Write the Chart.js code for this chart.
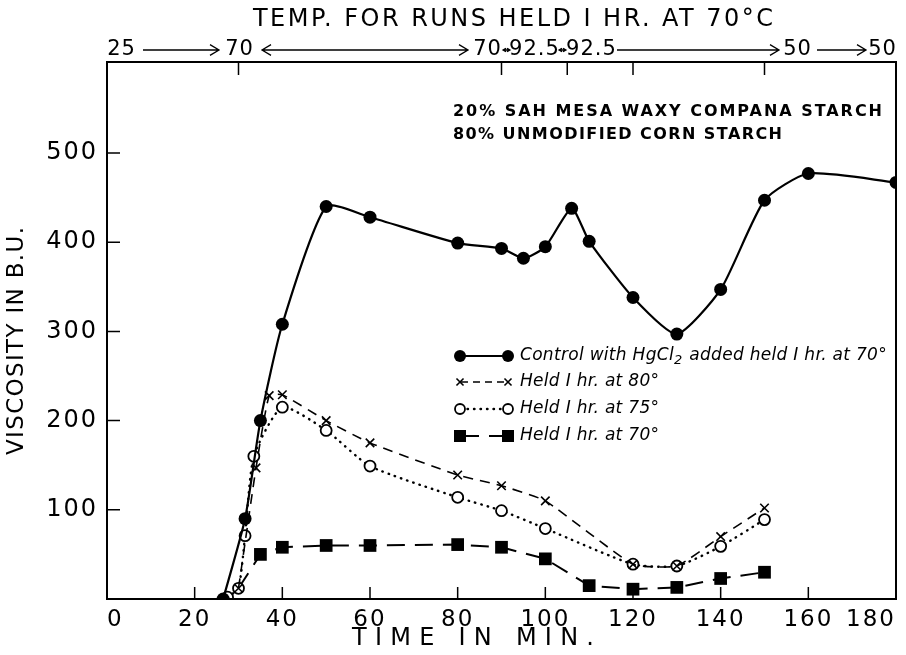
<!DOCTYPE html>
<html>
<head>
<meta charset="utf-8">
<script src="https://cdn.jsdelivr.net/npm/chart.js@4.4.1/dist/chart.umd.min.js"></script>
<style>
  html, body { margin: 0; padding: 0; background: #fff; }
</style>
</head>
<body>
<canvas id="viscChart" width="906" height="655"></canvas>
<script>
// time (min) and viscosity (B.U.)
const controlTime = [26.5, 31.5, 35, 40, 50, 60, 80, 90, 95, 100, 106, 110, 120, 130, 140, 150, 160, 180];
const controlVisc = [0, 90, 200, 308, 440, 428, 399, 393, 382, 395, 438, 401, 338, 297, 347, 447, 477, 467];

const held80Time = [30, 34, 37, 40, 50, 60, 80, 90, 100, 120, 130, 140, 150];
const held80Visc = [12, 147, 228, 229, 200, 175, 139, 127, 110, 39, 37, 70, 102];

const held75Time = [27.5, 30, 31.5, 33.5, 40, 50, 60, 80, 90, 100, 120, 130, 140, 150];
const held75Visc = [2, 12, 71, 160, 215, 189, 149, 114, 99, 79, 39, 37, 59, 89];

const held70Time = [30, 35, 40, 50, 60, 80, 90, 100, 110, 120, 130, 140, 150];
const held70Visc = [12, 50, 58, 60, 60, 61, 58, 45, 15, 11, 13, 23, 30];

const xTickValues = [0, 20, 40, 60, 80, 100, 120, 140, 160, 180];
const yTickValues = [100, 200, 300, 400, 500];
const topTickTimes = [30, 90, 105, 120, 150];  // temperature change marks on top border

const seriesLabels = [
    'Control with HgCl2 added held I hr. at 70°',
    'Held I hr. at 80°',
    'Held I hr. at 75°',
    'Held I hr. at 70°'
];
const mainTitle = 'TEMP. FOR RUNS HELD I HR. AT 70°C';
const tempLabels = ['25', '70', '70', '92.5', '92.5', '50', '50'];
const noteLines = ['20% SAH MESA WAXY COMPANA STARCH', '80% UNMODIFIED CORN STARCH'];
const xTitle = 'TIME IN MIN.';
const yTitle = 'VISCOSITY IN B.U.';

const FONT = "'DejaVu Sans', sans-serif";

function toPoints(xs, ys) {
    return xs.map((x, i) => ({ x: x, y: ys[i] }));
}

// draw text left-aligned, spread with letter spacing to the given width
function fitText(ctx, text, x0, x1, y) {
    ctx.letterSpacing = '0px';
    const w = ctx.measureText(text).width;
    const n = Math.max(text.length - 1, 1);
    const s = (x1 - x0 - w) / n;
    ctx.letterSpacing = s + 'px';
    ctx.textAlign = 'left';
    ctx.fillText(text, x0, y);
    ctx.letterSpacing = '0px';
}

// centred text with a fixed letter spacing
function centerText(ctx, text, cx, y, sp) {
    ctx.letterSpacing = sp + 'px';
    const w = ctx.measureText(text).width - sp;
    ctx.textAlign = 'left';
    ctx.fillText(text, cx - w / 2, y);
    ctx.letterSpacing = '0px';
}

function arrowLine(ctx, x0, x1, y, headL, headR, hs) {
    ctx.beginPath();
    ctx.moveTo(x0, y);
    ctx.lineTo(x1, y);
    if (headR) {
        ctx.moveTo(x1 - hs, y - hs * 0.6);
        ctx.lineTo(x1, y);
        ctx.lineTo(x1 - hs, y + hs * 0.6);
    }
    if (headL) {
        ctx.moveTo(x0 + hs, y - hs * 0.6);
        ctx.lineTo(x0, y);
        ctx.lineTo(x0 + hs, y + hs * 0.6);
    }
    ctx.stroke();
}

const paperPlugin = {
    id: 'paper',
    beforeDraw(chart) {
        const ctx = chart.ctx;
        ctx.save();
        ctx.fillStyle = '#fff';
        ctx.fillRect(0, 0, chart.width, chart.height);
        ctx.restore();
        ctx.letterSpacing = '2px';  // wide lettering for tick labels
    },
    beforeDatasetsDraw(chart) {
        chart.ctx.letterSpacing = '0px';
    },
    afterDraw(chart) {
        const ctx = chart.ctx;
        const a = chart.chartArea;
        const xs = chart.scales.x;
        const ys = chart.scales.y;
        ctx.save();
        ctx.strokeStyle = '#000';
        ctx.fillStyle = '#000';
        ctx.lineWidth = 2;
        ctx.strokeRect(a.left, a.top, a.right - a.left, a.bottom - a.top);

        // inner tick marks
        ctx.lineWidth = 1.5;
        ctx.beginPath();
        xs.ticks.forEach(t => {
            const px = xs.getPixelForValue(t.value);
            if (px > a.left + 2 && px < a.right - 2) {
                ctx.moveTo(px, a.bottom);
                ctx.lineTo(px, a.bottom - 12);
            }
        });
        ys.ticks.forEach(t => {
            const py = ys.getPixelForValue(t.value);
            ctx.moveTo(a.left, py);
            ctx.lineTo(a.left + 13, py);
        });
        topTickTimes.forEach(v => {
            const px = xs.getPixelForValue(v);
            ctx.moveTo(px, a.top);
            ctx.lineTo(px, a.top + 13);
        });
        ctx.stroke();

        ctx.textBaseline = 'middle';

        // titles
        ctx.font = '24px ' + FONT;
        fitText(ctx, mainTitle, 253, 773, 20);
        fitText(ctx, xTitle, 352, 594, 639);
        ctx.save();
        ctx.translate(17, 455);
        ctx.rotate(-Math.PI / 2);
        ctx.font = '23px ' + FONT;
        fitText(ctx, yTitle, 0, 228, 0);
        ctx.restore();

        // temperature row above the plot
        ctx.font = '21px ' + FONT;
        const centers = [121, 239, 487, 534, 591, 797, 882];
        tempLabels.forEach((t, i) => centerText(ctx, t, centers[i], 50, 1));
        ctx.lineWidth = 1.3;
        arrowLine(ctx, 143, 219, 50, false, true, 9);
        arrowLine(ctx, 262, 468, 50, true, true, 9);
        arrowLine(ctx, 503, 510, 50, true, true, 3);
        arrowLine(ctx, 559, 566, 50, true, true, 3);
        arrowLine(ctx, 617, 779, 50, false, true, 9);
        arrowLine(ctx, 817, 866, 50, false, true, 9);

        // note
        ctx.font = 'bold 16px ' + FONT;
        fitText(ctx, noteLines[0], 453, 882, 112);
        fitText(ctx, noteLines[1], 453, 782, 135);

        // legend
        const rows = [356, 382, 409, 436];
        chart.data.datasets.forEach((ds, i) => {
            const y = rows[i];
            ctx.save();
            ctx.strokeStyle = '#000';
            ctx.lineWidth = ds.borderWidth;
            ctx.lineCap = ds.borderCapStyle || 'butt';
            ctx.setLineDash(i === 1 ? [7, 5] : (ds.borderDash || []));
            ctx.beginPath();
            ctx.moveTo(461, y);
            ctx.lineTo(507, y);
            ctx.stroke();
            ctx.setLineDash([]);
            ctx.fillStyle = ds.pointBackgroundColor || ds.backgroundColor;
            ctx.lineWidth = ds.pointBorderWidth;
            const r = i === 0 ? 6 : (i === 3 ? 8.5 : 5);
            [460, 508].forEach(px => {
                Chart.helpers.drawPoint(ctx, { pointStyle: ds.pointStyle, radius: r, rotation: 0, borderWidth: ds.pointBorderWidth }, px, y);
            });
            ctx.restore();
        });
        ctx.fillStyle = '#000';
        ctx.font = 'italic 17px ' + FONT;
        // first label with subscript
        const parts = seriesLabels[0].split('2');
        const lx = 520;
        ctx.letterSpacing = '0.3px';
        ctx.textAlign = 'left';
        ctx.fillText(parts[0], lx, rows[0]);
        let px = lx + ctx.measureText(parts[0]).width;
        ctx.font = 'italic 13px ' + FONT;
        ctx.fillText('2', px, rows[0] + 5);
        px += ctx.measureText('2').width + 1;
        ctx.font = 'italic 17px ' + FONT;
        ctx.fillText(parts[1], px, rows[0]);
        for (let i = 1; i < 4; i++) {
            ctx.fillText(seriesLabels[i], lx, rows[i]);
        }
        ctx.letterSpacing = '0px';
        ctx.restore();
    }
};

const ctx = document.getElementById('viscChart').getContext('2d');
const chart = new Chart(ctx, {
    type: 'scatter',
    data: {
        datasets: [
            {
                label: seriesLabels[0],
                data: toPoints(controlTime, controlVisc),
                showLine: true,
                borderColor: '#000',
                backgroundColor: '#000',
                pointBackgroundColor: '#000',
                borderWidth: 2.2,
                pointStyle: 'circle',
                pointRadius: 6.5,
                pointBorderWidth: 0,
                tension: 0.2
            },
            {
                label: seriesLabels[1],
                data: toPoints(held80Time, held80Visc),
                showLine: true,
                borderColor: '#000',
                backgroundColor: '#000',
                borderWidth: 1.6,
                borderDash: [10, 7],
                pointStyle: 'crossRot',
                pointRadius: 6,
                pointBorderWidth: 1.6,
                tension: 0.15
            },
            {
                label: seriesLabels[2],
                data: toPoints(held75Time, held75Visc),
                showLine: true,
                borderColor: '#000',
                backgroundColor: '#fff',
                pointBackgroundColor: '#fff',
                borderWidth: 2.4,
                borderDash: [0.5, 6],
                borderCapStyle: 'round',
                pointStyle: 'circle',
                pointRadius: 5.5,
                pointBorderWidth: 1.8,
                tension: 0.2
            },
            {
                label: seriesLabels[3],
                data: toPoints(held70Time, held70Visc),
                showLine: true,
                borderColor: '#000',
                backgroundColor: '#000',
                pointBackgroundColor: '#000',
                borderWidth: 2,
                borderDash: [18, 10],
                pointStyle: 'rect',
                pointRadius: c => c.dataIndex === 0 ? 0 : 9,
                pointBorderWidth: 0,
                tension: 0
            }
        ]
    },
    options: {
        responsive: false,
        animation: false,
        devicePixelRatio: 1,
        layout: { padding: { top: 62, right: 10, left: 0, bottom: 0 } },
        plugins: {
            legend: { display: false },
            tooltip: { enabled: false },
            title: { display: false }
        },
        scales: {
            x: {
                type: 'linear',
                position: 'bottom',
                min: 0,
                max: 180,
                afterBuildTicks: s => { s.ticks = xTickValues.map(v => ({ value: v })); },
                afterFit: s => { s.height = 56; },
                grid: { display: false, drawTicks: false },
                border: { display: false },
                ticks: {
                    color: '#000',
                    font: { family: FONT, size: 23 },
                    padding: 7,
                    align: 'inner',
                    maxRotation: 0,
                    autoSkip: false
                }
            },
            y: {
                type: 'linear',
                min: 0,
                max: 602,
                afterBuildTicks: s => { s.ticks = yTickValues.map(v => ({ value: v })); },
                afterFit: s => { s.width = 107; },
                grid: { display: false, drawTicks: false },
                border: { display: false },
                ticks: {
                    color: '#000',
                    font: { family: FONT, size: 24 },
                    padding: 9
                }
            }
        }
    },
    plugins: [paperPlugin]
});
</script>
</body>
</html>
